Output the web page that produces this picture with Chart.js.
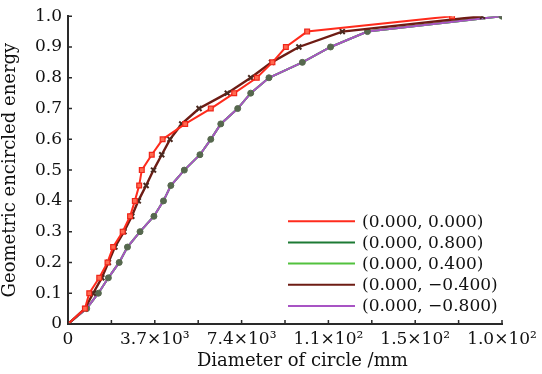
<html lang="en">
<head>
    <meta charset="UTF-8">
    <title>Geometric encircled energy</title>
    <script src="https://cdn.jsdelivr.net/npm/chart.js"></script>
    <style>
        body { margin: 0; background: #fff; }
    </style>
</head>
<body>
    <canvas id="myChart" width="542" height="374"></canvas>

    <script>
        // Values
        const yLevels = [0, 0.05, 0.1, 0.15, 0.2, 0.25, 0.3, 0.35, 0.4, 0.45, 0.5,
                         0.55, 0.6, 0.65, 0.7, 0.75, 0.8, 0.85, 0.9, 0.95, 1.0];

        const xRed = [0, 0.39, 0.49, 0.72, 0.91, 1.04, 1.26, 1.43, 1.54, 1.64, 1.70,
                      1.93, 2.18, 2.70, 3.29, 3.83, 4.35, 4.71, 5.02, 5.51, 8.85];
        const xGreen = [0, 0.43, 0.70, 0.93, 1.18, 1.37, 1.66, 1.98, 2.20, 2.37, 2.68,
                        3.04, 3.29, 3.52, 3.91, 4.21, 4.63, 5.40, 6.05, 6.90, 10];
        const xLightGreen = [0, 0.43, 0.70, 0.93, 1.18, 1.37, 1.66, 1.98, 2.20, 2.37, 2.68,
                             3.04, 3.29, 3.52, 3.91, 4.21, 4.63, 5.40, 6.05, 6.90, 10];
        const xBrown = [0, 0.39, 0.58, 0.78, 0.93, 1.08, 1.29, 1.47, 1.62, 1.80, 1.97,
                        2.16, 2.35, 2.62, 3.02, 3.67, 4.21, 4.69, 5.32, 6.32, 9.55];
        const xPurple = [0, 0.43, 0.70, 0.93, 1.18, 1.37, 1.66, 1.98, 2.20, 2.37, 2.68,
                         3.04, 3.29, 3.52, 3.91, 4.21, 4.63, 5.40, 6.05, 6.90, 10];

        const seriesNames = ['(0.000, 0.000)', '(0.000, 0.800)', '(0.000, 0.400)',
                             '(0.000, \u22120.400)', '(0.000, \u22120.800)'];
        const xTickLabels = ['0', '3.7\u00d710\u00b3', '7.4\u00d710\u00b3', '1.1\u00d710\u00b2', '1.5\u00d710\u00b2', '1.0\u00d710\u00b2'];
        const yTickLabels = ['0', '0.1', '0.2', '0.3', '0.4', '0.5', '0.6', '0.7', '0.8', '0.9', '1.0'];
        const xTitle = 'Diameter of circle /mm';
        const yTitle = 'Geometric encircled energy';

        function pts(xs) {
            return xs.map(function (x, i) { return { x: x, y: yLevels[i] }; });
        }

        const FONT = '"DejaVu Serif", serif';
        const AXIS = '#2a2a2a';

        var data = {
            datasets: [{
                label: seriesNames[0],
                data: pts(xRed),
                borderColor: '#ff2b1c',
                borderWidth: 2,
                pointStyle: 'rect',
                pointRadius: 3.4,
                pointBackgroundColor: '#ff6a50',
                pointBorderColor: '#f0261a',
                pointBorderWidth: 1.2,
                order: 1
            },
            {
                label: seriesNames[1],
                data: pts(xGreen),
                borderColor: '#1d7a34',
                borderWidth: 2,
                pointRadius: 0,
                order: 5
            },
            {
                label: seriesNames[2],
                data: pts(xLightGreen),
                borderColor: '#52c23e',
                borderWidth: 2,
                pointRadius: 0,
                order: 4
            },
            {
                label: seriesNames[3],
                data: pts(xBrown),
                borderColor: '#6e1c14',
                borderWidth: 2.4,
                pointStyle: 'crossRot',
                pointRadius: 3.5,
                pointBorderColor: '#4a2a20',
                pointBorderWidth: 2,
                order: 2
            },
            {
                label: seriesNames[4],
                data: pts(xPurple),
                borderColor: '#a854c4',
                borderWidth: 2,
                pointStyle: 'circle',
                pointRadius: 3,
                pointBackgroundColor: '#56684e',
                pointBorderColor: '#56684e',
                pointBorderWidth: 1,
                order: 3
            }]
        };

        // inward tick marks and the x title (sits a bit right of centre in the original)
        var axisExtras = {
            id: 'axisExtras',
            afterDraw: function (chart) {
                var ctx = chart.ctx, xs = chart.scales.x, ys = chart.scales.y;
                var a = chart.chartArea;
                ctx.save();
                ctx.strokeStyle = AXIS;
                ctx.lineWidth = 1.5;
                ctx.beginPath();
                xs.ticks.forEach(function (t) {
                    var px = xs.getPixelForValue(t.value);
                    ctx.moveTo(px, a.bottom);
                    ctx.lineTo(px, a.bottom - 4);
                });
                ys.ticks.forEach(function (t) {
                    var py = ys.getPixelForValue(t.value);
                    ctx.moveTo(a.left, py);
                    ctx.lineTo(a.left + 4, py);
                });
                ctx.stroke();
                ctx.font = '18px ' + FONT;
                ctx.fillStyle = '#111';
                ctx.textAlign = 'center';
                ctx.textBaseline = 'middle';
                ctx.fillText(xTitle, xs.getPixelForValue(5.4), a.bottom + 37);
                ctx.restore();
            }
        };

        // legend drawn inside the plot, lower right
        var insideLegend = {
            id: 'insideLegend',
            afterDraw: function (chart) {
                var ctx = chart.ctx, a = chart.chartArea;
                var x0 = a.left + 220, y0 = a.top + 205, step = 21.2;
                ctx.save();
                ctx.font = '17px ' + FONT;
                ctx.textBaseline = 'middle';
                ctx.textAlign = 'left';
                chart.data.datasets.forEach(function (ds, i) {
                    var y = y0 + i * step;
                    ctx.strokeStyle = ds.borderColor;
                    ctx.lineWidth = 2;
                    ctx.beginPath();
                    ctx.moveTo(x0, y);
                    ctx.lineTo(x0 + 67, y);
                    ctx.stroke();
                    ctx.fillStyle = '#111';
                    ctx.fillText(ds.label, x0 + 74, y + 1);
                });
                ctx.restore();
            }
        };

        var config = {
            type: 'line',
            data: data,
            plugins: [axisExtras, insideLegend],
            options: {
                responsive: false,
                animation: false,
                devicePixelRatio: 1,
                layout: { padding: { left: 0, right: 40, top: 12, bottom: 0 } },
                plugins: {
                    legend: { display: false },
                    tooltip: { enabled: false }
                },
                scales: {
                    x: {
                        type: 'linear',
                        min: 0,
                        max: 10,
                        grid: { display: false, drawTicks: false },
                        border: { display: true, color: AXIS, width: 2 },
                        ticks: {
                            stepSize: 1,
                            autoSkip: false,
                            maxRotation: 0,
                            padding: 5,
                            color: '#111',
                            font: { family: FONT, size: 17 },
                            callback: function (v) {
                                return v % 2 === 0 ? xTickLabels[v / 2] : '';
                            }
                        },
                        afterFit: function (scale) { scale.height = 50; }
                    },
                    y: {
                        type: 'linear',
                        min: 0,
                        max: 1,
                        grid: { display: false, drawTicks: false },
                        border: { display: true, color: AXIS, width: 2 },
                        ticks: {
                            stepSize: 0.1,
                            padding: 6,
                            color: '#111',
                            font: { family: FONT, size: 17 },
                            callback: function (v, i) { return yTickLabels[i]; }
                        },
                        title: {
                            display: true,
                            text: yTitle,
                            color: '#111',
                            font: { family: FONT, size: 18 },
                            padding: { top: 0, bottom: 2 }
                        },
                        afterFit: function (scale) { scale.width = 68; }
                    }
                }
            }
        };

        var ctx = document.getElementById('myChart').getContext('2d');
        var myChart = new Chart(ctx, config);
    </script>
</body>
</html>
